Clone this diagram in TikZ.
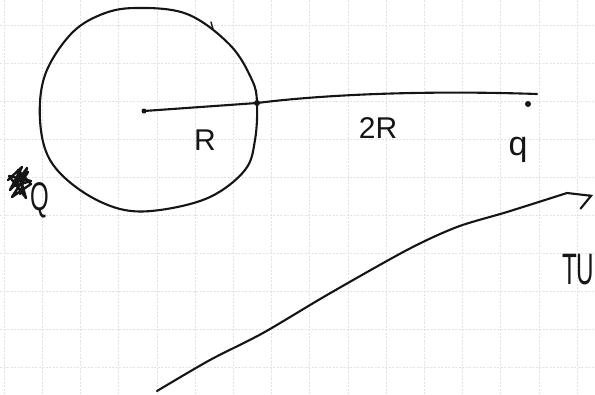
\documentclass[tikz,border=0pt]{standalone}
\usepackage{fontspec}
\setsansfont{Liberation Sans}
\usetikzlibrary{arrows.meta, calc}
\definecolor{PaperGrid}{HTML}{E2E2E2}
\definecolor{InkBlack}{HTML}{151515}
\tikzset{
    % Paper styles
    gridline/.style={
        draw=PaperGrid,
        line width=0.6pt,
        dash pattern=on 2pt off 1.5pt
    },
    % Pen styles
    pen/.style={
        draw=InkBlack,
        line width=2.1pt,
        line cap=round,
        line join=round
    },
    inkdot/.style={
        circle,
        fill=InkBlack,
        inner sep=0pt,
        minimum size=#1
    },
    handlabel/.style={
        font=\sffamily\fontsize{#1}{#1}\selectfont,
        text=InkBlack,
        inner sep=0pt
    },
    motion/.style={
        pen,
        -{Straight Barb[right, length=9pt, width=28pt, line cap=round]}
    }
}

\begin{document}
\begin{tikzpicture}[x=1pt, y=-1pt]
            \useasboundingbox (0,0) rectangle (595,394);
            \fill[white] (0,0) rectangle (595,394);

            % Grid paper
            \foreach \gx in {0,...,15}
                \draw[gridline] ({4+38.2*\gx},0) -- ({4+38.2*\gx},394);
            \foreach \gy in {0,...,9}
                \draw[gridline] (0,{25+38*\gy}) -- (595,{25+38*\gy});

            % Sphere with charge Q
            \draw[pen] plot[smooth cycle, tension=0.6] coordinates {
                (135,8) (187,14) (230,45) (252,80) (257,103) (255,140)
                (245,170) (210,197) (160,210) (120,209) (80,190) (50,160)
                (40,120) (45,75) (70,35) (100,15)};
            \draw[pen, line width=1.4pt] (211,22) -- (213,29);

            % Points
            \node[inkdot=5pt] (centre) at (144,111) {};
            \node[inkdot=6pt] (rim) at (257,103) {};
            \node[inkdot=6pt] (charge) at (528,104) {};
            \coordinate (lineend) at (537,94);

            % Distance line
            \draw[pen] (centre.center) -- (rim.center)
                .. controls (320,95) and (420,90) .. (lineend);

            % Labels
            \node[handlabel=30] (rlabel) at (205,140) {R};
            \node[handlabel=30] (tworlabel) at (378,128) {2R};
            \node[handlabel=34] (qlabel) at (518,150) {q};
            \node[handlabel=40, xscale=0.6] (biglabel) at (40,200) {Q};

            % Crossed-out letter
            \draw[pen, line width=2.4pt] (8,180) -- (22,167) -- (10,190) -- (28,172)
                -- (12,197) -- (31,184) -- (18,170) -- (26,198) -- (9,176) -- (31,181)
                -- (14,186) -- (27,168) -- (20,194);

            % Path of the test charge
            \coordinate (trackstart) at (157,391);
            \coordinate (tracktip) at (593,196);
            \draw[motion] plot[smooth, tension=0.5] coordinates {
                (trackstart) (210,360) (263,333) (327,295) (407,250)
                (457,227) (507,212) (567,193)} -- (tracktip);

            % Label on the right edge
            \node[handlabel=44, xscale=0.55, anchor=west] (tulabel) at (562,270) {TU};
\end{tikzpicture}
\end{document}
